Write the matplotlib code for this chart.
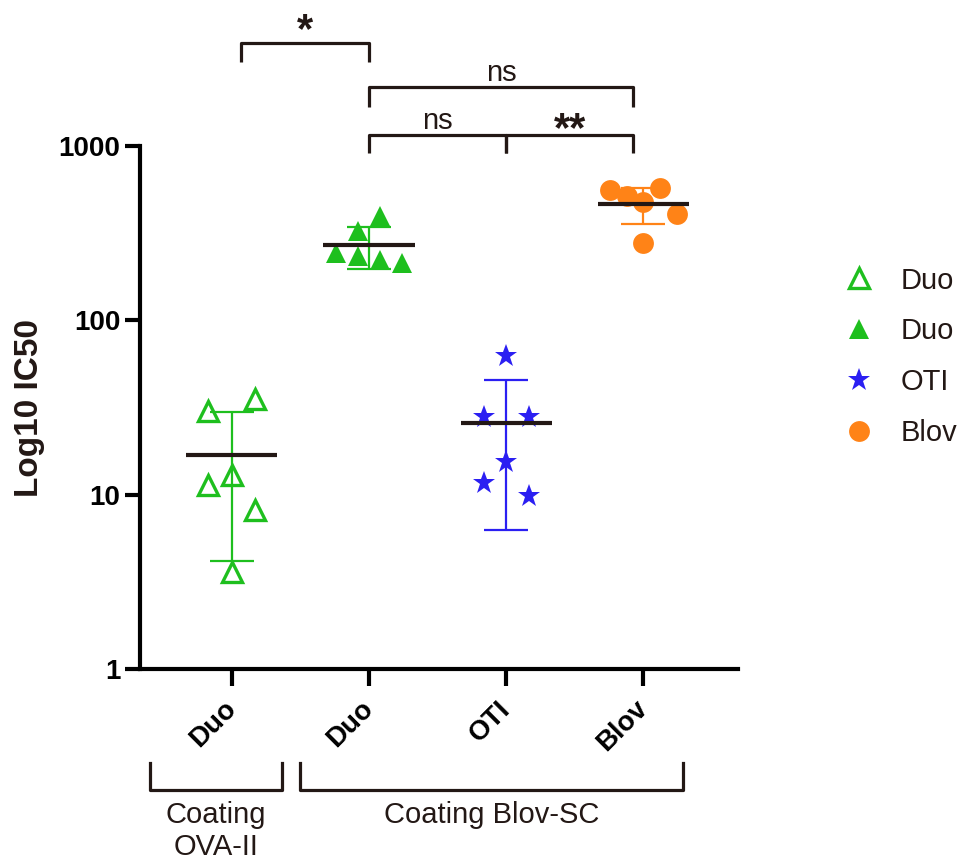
import numpy as np
import matplotlib.pyplot as plt
import matplotlib.transforms as mtransforms
from matplotlib.lines import Line2D
from matplotlib.ticker import FixedLocator, FixedFormatter, NullLocator

plt.rcParams['font.family'] = ['Liberation Sans', 'DejaVu Sans']

# data (IC50 per antibody / coating)
group_labels = ['Duo', 'Duo', 'OTI', 'Blov']
legend_labels = ['Duo', 'Duo', 'OTI', 'Blov']
duo_ova = [30.1, 35.3, 11.3, 12.9, 8.2, 3.6]
duo_blov = [324, 397, 242, 233, 221, 212]
oti_blov = [62.2, 27.8, 27.8, 15.4, 11.6, 9.8]
blov_blov = [556, 514, 476, 571, 405, 276]
ytick_values = [1, 10, 100, 1000]
ytick_labels = ['1', '10', '100', '1000']

# layout of the scatter columns (slot index per point, slot width)
slots = [[-1, 1, -1, 0, 1, 0],
         [-0.5, 0.5, -1.5, -0.5, 0.5, 1.5],
         [0, -1, 1, 0, -1, 1],
         [-2, -1, 0, 1, 2, 0]]
slot_width = [0.172, 0.16, 0.164, 0.122]

green = '#1EBF1E'
blue = '#2B1FF2'
orange = '#FF8317'
ink = '#231815'

styles = [
    dict(marker='^', mfc='none', mec=green, mew=2.4, ms=14),
    dict(marker='^', mfc=green, mec=green, mew=0, ms=15),
    dict(marker='*', mfc=blue, mec=blue, mew=0, ms=17),
    dict(marker='o', mfc=orange, mec=orange, mew=0, ms=15),
]
colors = [green, green, blue, orange]

fig = plt.figure(figsize=(9.62, 8.64), dpi=100)
ax = fig.add_axes([0.1455, 0.2257, 0.6216, 0.6053])

series = [duo_ova, duo_blov, oti_blov, blov_blov]
for i, vals in enumerate(series):
    vals = np.asarray(vals, dtype=float)
    xs = i + np.asarray(slots[i]) * slot_width[i]
    m = vals.mean()
    sd = vals.std(ddof=1)
    ax.errorbar(i, m, yerr=sd, fmt='none', ecolor=colors[i], elinewidth=1.6,
                capsize=16, capthick=1.6, zorder=2)
    ax.plot(xs, vals, linestyle='none', zorder=3, **styles[i])
    ax.hlines(m, i - 0.332, i + 0.332, color=ink, lw=3, zorder=4)

ax.set_yscale('log')
ax.set_ylim(1, 1000)
ax.set_xlim(-0.67, 3.69)
ax.yaxis.set_major_locator(FixedLocator(ytick_values))
ax.yaxis.set_major_formatter(FixedFormatter(ytick_labels))
ax.yaxis.set_minor_locator(NullLocator())
ax.set_xticks(range(len(group_labels)))
ax.set_xticklabels(group_labels)

for side in ['top', 'right']:
    ax.spines[side].set_visible(False)
for side in ['left', 'bottom']:
    ax.spines[side].set_linewidth(3)
    ax.spines[side].set_color('black')

ax.tick_params(axis='y', length=11, width=3, pad=3, labelsize=20)
ax.tick_params(axis='x', length=12, width=3, pad=14, labelsize=20)
for lab in ax.get_yticklabels():
    lab.set_fontweight('bold')
for lab in ax.get_xticklabels():
    lab.set_fontweight('bold')
    lab.set_rotation(45)
    lab.set_ha('right')
    lab.set_va('center')
    lab.set_rotation_mode('anchor')

ax.set_ylabel('Log10 IC50', fontsize=24, fontweight='bold', color=ink, labelpad=10)

trans = mtransforms.blended_transform_factory(ax.transData, ax.transAxes)

# significance brackets above the plot: x1, x2, level, leg, label, text offset
sig = [
    (0.066, 1.0, 1.197, 0.036, '*', 0.001),
    (1.0, 2.927, 1.113, 0.038, 'ns', 0.012),
    (1.0, 2.0, 1.021, 0.034, 'ns', 0.012),
    (2.0, 2.927, 1.021, 0.034, '**', -0.012),
]
for x1, x2, lvl, leg, txt, off in sig:
    ax.plot([x1, x1, x2, x2], [lvl - leg, lvl, lvl, lvl - leg], color=ink, lw=2.3,
            transform=trans, clip_on=False, solid_capstyle='butt')
    if '*' in txt:
        ax.text((x1 + x2) / 2, lvl + off, txt, transform=trans, ha='center',
                va='baseline', fontsize=30, fontweight='bold', color=ink)
    else:
        ax.text((x1 + x2) / 2, lvl + off, txt, transform=trans, ha='center',
                va='baseline', fontsize=21, color=ink)

# group brackets under the axis
coating = [(-0.60, 0.365, 'Coating\nOVA-II'), (0.496, 3.29, 'Coating Blov-SC')]
for x1, x2, txt in coating:
    ax.plot([x1, x1, x2, x2], [-0.180, -0.231, -0.231, -0.180], color=ink, lw=2.3,
            transform=trans, clip_on=False)
    ax.text((x1 + x2) / 2, -0.252, txt, transform=trans, ha='center', va='top',
            fontsize=21, color=ink, linespacing=1.2)

handles = [Line2D([], [], linestyle='none', **s) for s in styles]
fig.legend(handles, legend_labels, loc='upper left', bbox_to_anchor=(0.866, 0.705),
           frameon=False, fontsize=21, labelspacing=0.78, handlelength=1.0,
           handletextpad=0.9, borderaxespad=0, labelcolor=ink)

fig.savefig('out.png', dpi=100)
